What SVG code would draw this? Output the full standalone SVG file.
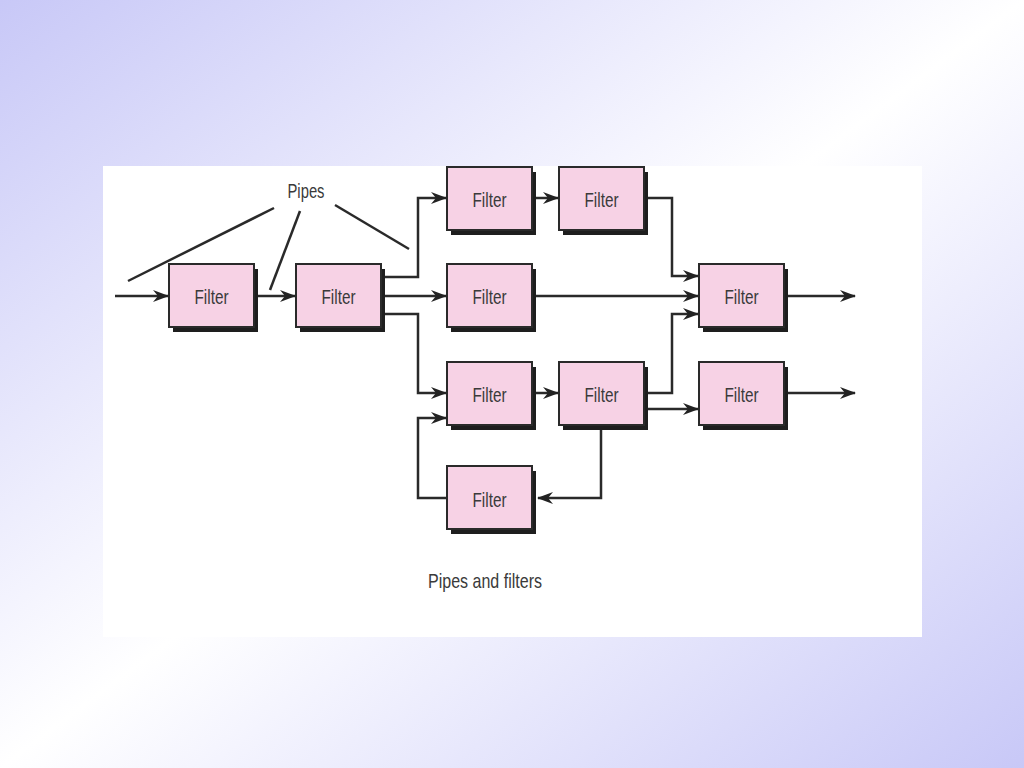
<svg xmlns="http://www.w3.org/2000/svg" width="1024" height="768" viewBox="0 0 1024 768">
<defs>
<linearGradient id="bg" x1="0" y1="0" x2="1" y2="1">
<stop offset="0" stop-color="#c8c8f7"/>
<stop offset="0.4" stop-color="#f4f4fe"/>
<stop offset="0.5" stop-color="#ffffff"/>
<stop offset="0.6" stop-color="#f4f4fe"/>
<stop offset="1" stop-color="#c8c8f7"/>
</linearGradient>
<marker id="ah" viewBox="0 0 16 12" refX="15" refY="6" markerWidth="16" markerHeight="12" markerUnits="userSpaceOnUse" orient="auto">
<path d="M0,0 L16,6 L0,12 L5,6 z" fill="#222"/>
</marker>
<style>
.box{fill:#f7d2e5;stroke:#2a2a2a;stroke-width:2}
.sh{fill:#1e1e1e}
.lbl{font-family:"Liberation Sans","DejaVu Sans",sans-serif;font-size:21px;fill:#3a3a3a;text-anchor:middle}
.c{fill:none;stroke:#2a2a2a;stroke-width:2.5}
.ca{fill:none;stroke:#2a2a2a;stroke-width:2.5;marker-end:url(#ah)}
</style>
</defs>
<rect width="1024" height="768" fill="url(#bg)"/>
<rect x="103" y="166" width="819" height="471" fill="#ffffff"/>

<g id="nodes">
<g id="f1"><rect class="sh" x="173" y="269" width="85" height="63"/><rect class="box" x="169" y="264" width="85" height="63"/><text class="lbl" x="211.5" y="304" textLength="34" lengthAdjust="spacingAndGlyphs">Filter</text></g>
<g id="f2"><rect class="sh" x="300" y="269" width="85" height="63"/><rect class="box" x="296" y="264" width="85" height="63"/><text class="lbl" x="338.5" y="304" textLength="34" lengthAdjust="spacingAndGlyphs">Filter</text></g>
<g id="fa"><rect class="sh" x="451" y="172" width="85" height="63"/><rect class="box" x="447" y="167" width="85" height="63"/><text class="lbl" x="489.5" y="207" textLength="34" lengthAdjust="spacingAndGlyphs">Filter</text></g>
<g id="fb"><rect class="sh" x="563" y="172" width="85" height="63"/><rect class="box" x="559" y="167" width="85" height="63"/><text class="lbl" x="601.5" y="207" textLength="34" lengthAdjust="spacingAndGlyphs">Filter</text></g>
<g id="fm"><rect class="sh" x="451" y="269" width="85" height="63"/><rect class="box" x="447" y="264" width="85" height="63"/><text class="lbl" x="489.5" y="304" textLength="34" lengthAdjust="spacingAndGlyphs">Filter</text></g>
<g id="fr"><rect class="sh" x="703" y="269" width="85" height="63"/><rect class="box" x="699" y="264" width="85" height="63"/><text class="lbl" x="741.5" y="304" textLength="34" lengthAdjust="spacingAndGlyphs">Filter</text></g>
<g id="fc"><rect class="sh" x="451" y="367" width="85" height="63"/><rect class="box" x="447" y="362" width="85" height="63"/><text class="lbl" x="489.5" y="402" textLength="34" lengthAdjust="spacingAndGlyphs">Filter</text></g>
<g id="fd"><rect class="sh" x="563" y="367" width="85" height="63"/><rect class="box" x="559" y="362" width="85" height="63"/><text class="lbl" x="601.5" y="402" textLength="34" lengthAdjust="spacingAndGlyphs">Filter</text></g>
<g id="fr2"><rect class="sh" x="703" y="367" width="85" height="63"/><rect class="box" x="699" y="362" width="85" height="63"/><text class="lbl" x="741.5" y="402" textLength="34" lengthAdjust="spacingAndGlyphs">Filter</text></g>
<g id="fe"><rect class="sh" x="451" y="471" width="85" height="63"/><rect class="box" x="447" y="466" width="85" height="63"/><text class="lbl" x="489.5" y="507" textLength="34" lengthAdjust="spacingAndGlyphs">Filter</text></g>
</g>

<g id="connectors">
<path class="ca" d="M115,296 H168"/>
<path class="ca" d="M258,296 H295"/>
<path class="ca" d="M385,277 H418 V198 H446"/>
<path class="ca" d="M385,296 H446"/>
<path class="ca" d="M385,314 H418 V393 H446"/>
<path class="ca" d="M536,198 H558"/>
<path class="ca" d="M648,198 H672 V276 H698"/>
<path class="ca" d="M536,296 H698"/>
<path class="ca" d="M536,393 H558"/>
<path class="ca" d="M648,393 H672 V314 H698"/>
<path class="ca" d="M648,409 H698"/>
<path class="ca" d="M788,296 H855"/>
<path class="ca" d="M788,393 H855"/>
<path class="ca" d="M601,430 V498 H538"/>
<path class="ca" d="M447,498 H418 V418 H446"/>
<path class="c" d="M274,208 L128,281"/>
<path class="c" d="M300,211 L270,290"/>
<path class="c" d="M335,205 L409,249"/>
</g>

<text class="lbl" x="306" y="198" textLength="37" lengthAdjust="spacingAndGlyphs">Pipes</text>
<text class="lbl" x="485" y="588" textLength="114" lengthAdjust="spacingAndGlyphs">Pipes and filters</text>
</svg>
